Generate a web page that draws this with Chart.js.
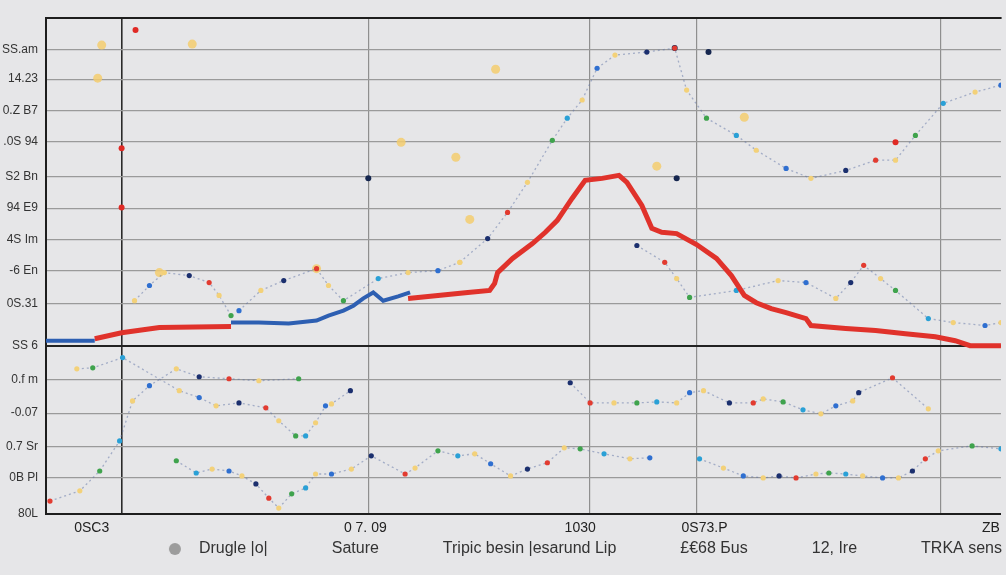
<!DOCTYPE html>
<html lang="en">
<head>
<meta charset="UTF-8">
<title>Chart</title>
<script src="https://cdn.jsdelivr.net/npm/chart.js"></script>
<style>
  body { margin: 0; background: #e6e6e8; }
  #wrap { width: 1006px; height: 575px; position: relative; }
</style>
</head>
<body>
<div id="wrap"><canvas id="myChart"></canvas></div>
<script>
// axis ticks
const xTickPos = [4.6, 32.1, 53.7, 66.2, 95.0];
const xTickLabels = ['0SC3', '0 7. 09', '1030', '0S73.P', 'ZB'];
const xGridPos = [7.6, 32.4, 54.6, 65.4, 89.9];
const yTickPos = [0, 1.1, 2.05, 3.05, 4.05, 5.09, 6.35, 7.35, 8.3, 9.25, 10.2, 11.25, 12.2, 13.15, 14.05];
const yTickLabels = ['80L', '0B Pl', '0.7 Sr', '-0.07', '0.f m', 'SS 6', '0S.31', '-6 En', '4S Im', '94 E9', 'S2 Bn', '.0S 94', '0.Z B7', '14.23', 'SS.am'];

const legendNames = ['Drugle |o|', 'Sature', 'Tripic besin |esarund Lip', '£€68 Бus', '12, Ire', 'TRKA sens'];

// main lines
const redX = [4.9, 7.6, 11.4, 18.6, 27, 36.4, 38.4, 42.4, 44.6, 45.1, 45.4, 46.9, 48.9, 50.2, 51.4, 52.9, 54.2, 55.9, 57.6, 58.4, 59.9, 60.9, 61.9, 63.4, 65.4, 67.4, 68.9, 70.2, 71.4, 72.9, 74.4, 76.4, 76.9, 80.4, 83.4, 86.4, 89.4, 91.4, 92.9, 96];
const redY = [5.30, 5.48, 5.64, 5.67, null, 6.52, 6.58, 6.70, 6.76, 6.97, 7.30, 7.73, 8.18, 8.52, 8.88, 9.55, 10.09, 10.15, 10.24, 10.03, 9.33, 8.64, 8.52, 8.48, 8.15, 7.73, 7.21, 6.61, 6.39, 6.21, 6.09, 5.91, 5.70, 5.61, 5.55, 5.45, 5.36, 5.24, 5.09, 5.09];

const blueX = [0, 4.9, 10, 18.6, 21.4, 24.4, 27.2, 28.4, 29.9, 30.9, 31.9, 32.9, 33.9, 35.4, 36.6];
const blueY = [5.24, 5.24, null, 5.79, 5.79, 5.76, 5.85, 6.00, 6.15, 6.30, 6.52, 6.70, 6.45, 6.58, 6.70];

// dotted series
const s1X = [8.9, 10.4, 11.9, 14.4, 16.4, 17.4, 18.6];
const s1Y = [6.45, 6.91, 7.30, 7.21, 7.0, 6.61, 6.0];

const s2X = [19.4, 21.6, 23.9, 27.2, 28.4, 29.9, 33.4, 36.4, 39.4, 41.6];
const s2Y = [6.15, 6.76, 7.06, 7.42, 6.91, 6.45, 7.12, 7.30, 7.36, 7.61];

const s3X = [41.6, 44.4, 46.4, 48.4, 50.9, 52.4, 53.9, 55.4, 57.2, 60.4, 63.2, 64.4, 66.4, 69.4, 71.4, 74.4, 76.9, 80.4, 83.4, 85.4, 87.4, 90.2, 93.4, 96];
const s3Y = [7.61, 8.33, 9.12, 10.03, 11.3, 11.97, 12.52, 13.48, 13.88, 13.97, 14.09, 12.82, 11.97, 11.45, 11.0, 10.45, 10.15, 10.39, 10.7, 10.7, 11.45, 12.42, 12.76, 12.97];

const s4X = [59.4, 62.2, 63.4, 64.7, 69.4, 73.6, 76.4, 79.4, 80.9, 82.2, 83.9, 85.4, 88.7, 91.2, 94.4, 96];
const s4Y = [8.12, 7.61, 7.12, 6.55, 6.76, 7.06, 7.0, 6.52, 7.0, 7.52, 7.12, 6.76, 5.91, 5.79, 5.70, 5.79];

const s5X = [0.4, 3.4, 5.4, 7.4, 8.7, 10.4, 13.1, 15.4, 18.4, 21.4, 25.4];
const s5Y = [0.39, 0.7, 1.3, 2.21, 3.42, 3.88, 4.39, 4.15, 4.09, 4.03, 4.09];

const s6X = [3.1, 4.7, 7.7, 13.4, 15.4, 17.1, 19.4, 22.1, 23.4, 25.1, 26.1, 27.1, 28.1, 28.7, 30.6];
const s6Y = [4.39, 4.42, 4.73, 3.73, 3.52, 3.27, 3.36, 3.21, 2.82, 2.36, 2.36, 2.76, 3.27, 3.33, 3.73];

const s7X = [13.1, 15.1, 16.7, 18.4, 19.7, 21.1, 22.4, 23.4, 24.7, 26.1, 27.1, 28.7, 30.7, 32.7, 36.1, 37.1, 39.4, 41.4, 43.1, 44.7, 46.7, 48.4, 50.4, 52.1, 53.7, 56.1, 58.7, 60.7];
const s7Y = [1.61, 1.24, 1.36, 1.30, 1.15, 0.91, 0.48, 0.18, 0.61, 0.79, 1.21, 1.21, 1.36, 1.76, 1.21, 1.39, 1.91, 1.76, 1.82, 1.52, 1.15, 1.36, 1.55, 2.0, 1.97, 1.82, 1.67, 1.70];

const s8X = [65.7, 68.1, 70.1, 72.1, 73.7, 75.4, 77.4, 78.7, 80.4, 82.1, 84.1, 85.7, 87.1, 88.4, 89.7, 93.1, 96];
const s8Y = [1.67, 1.39, 1.15, 1.09, 1.15, 1.09, 1.21, 1.24, 1.21, 1.15, 1.09, 1.09, 1.30, 1.67, 1.91, 2.06, 1.97];

const s9X = [52.7, 54.7, 57.1, 59.4, 61.4, 63.4, 64.7, 66.1, 68.7, 71.1, 72.1, 74.1, 76.1, 77.9, 79.4, 81.1, 81.7, 85.1, 88.7];
const s9Y = [3.97, 3.36, 3.36, 3.36, 3.39, 3.36, 3.67, 3.73, 3.36, 3.36, 3.48, 3.39, 3.15, 3.03, 3.27, 3.42, 3.67, 4.12, 3.18];

// loose dots
const yellowX = [5.6, 14.7, 5.2, 35.7, 45.2, 41.2, 42.6, 61.4, 70.2, 27.2, 11.4];
const yellowY = [14.18, 14.21, 13.18, 11.24, 13.45, 10.79, 8.91, 10.52, 12.0, 7.42, 7.30];
const darkX = [9.0, 7.6, 7.6, 32.4, 63.2, 66.6, 63.4, 85.4];
const darkY = [14.64, 11.06, 9.27, 10.15, 14.09, 13.97, 10.15, 11.24];

function pts(xs, ys) {
    return xs.map((x, i) => ({ x: x, y: ys[i] }));
}

const palette = ['#f3d179', '#2f6fd0', '#f3d179', '#1b2f6e', '#e23b30', '#f3d179', '#3fa34d', '#2aa0d6'];

function dotted(label, xs, ys, shift) {
    return {
        label: label,
        data: pts(xs, ys),
        borderColor: 'rgba(95,115,165,0.5)',
        borderWidth: 1.3,
        borderDash: [2, 3],
        pointRadius: 2.6,
        pointBorderWidth: 0,
        pointBackgroundColor: ctx => palette[(ctx.dataIndex + shift) % palette.length],
        order: 5
    };
}

// grey dot for the first legend entry (sits near the right of its box)
const legendDot = document.createElement('canvas');
legendDot.width = 52;
legendDot.height = 14;
const g = legendDot.getContext('2d');
g.fillStyle = '#9c9c9c';
g.beginPath();
g.arc(36, 7, 6, 0, Math.PI * 2);
g.fill();

const ctx = document.getElementById('myChart');

new Chart(ctx, {
    type: 'line',
    data: {
        datasets: [
            { label: legendNames[2], data: pts(redX, redY), borderColor: '#e0322b', backgroundColor: '#e0322b', borderWidth: 5, pointRadius: 0, order: 1 },
            { label: legendNames[4], data: pts(blueX, blueY), borderColor: '#2d5fb2', backgroundColor: '#2d5fb2', borderWidth: 4, pointRadius: 0, order: 2 },
            dotted(legendNames[0], s1X, s1Y, 0),
            dotted(legendNames[1], s2X, s2Y, 1),
            dotted(legendNames[3], s3X, s3Y, 2),
            dotted(legendNames[5], s4X, s4Y, 3),
            dotted('', s5X, s5Y, 4),
            dotted('', s6X, s6Y, 5),
            dotted('', s7X, s7Y, 6),
            dotted('', s8X, s8Y, 7),
            dotted('', s9X, s9Y, 3),
            { label: '', data: pts(yellowX, yellowY), showLine: false, pointRadius: 4.5, pointBorderWidth: 0, pointBackgroundColor: 'rgba(243,205,110,0.85)', order: 6 },
            { label: '', data: pts(darkX, darkY), showLine: false, pointRadius: 3, pointBorderWidth: 0, pointBackgroundColor: ctx => ctx.dataIndex < 3 || ctx.dataIndex == 7 ? '#e02a25' : '#15264f', order: 6 }
        ]
    },
    options: {
        responsive: true,
        maintainAspectRatio: false,
        animation: false,
        layout: { padding: { top: 18, right: 0, bottom: 8, left: 0 } },
        plugins: {
            tooltip: { enabled: false },
            legend: {
                position: 'bottom',
                align: 'end',
                labels: {
                    color: '#333',
                    font: { family: 'Liberation Sans', size: 16 },
                    usePointStyle: true,
                    pointStyleWidth: 52,
                    padding: 4,
                    generateLabels(chart) {
                        const items = Chart.defaults.plugins.legend.labels.generateLabels(chart)
                            .filter(it => it.text);
                        items.sort((a, b) => legendNames.indexOf(a.text) - legendNames.indexOf(b.text));
                        items.forEach((it, i) => {
                            it.pointStyle = i === 0 ? legendDot : 'circle';
                            it.lineDash = [];
                            it.lineWidth = 0;
                            it.fillStyle = 'rgba(0,0,0,0)';
                            it.strokeStyle = 'rgba(0,0,0,0)';
                        });
                        return items;
                    }
                }
            }
        },
        scales: {
            x: {
                type: 'linear',
                min: 0,
                max: 96,
                afterBuildTicks: scale => { scale.ticks = xTickPos.map(v => ({ value: v })); },
                afterFit: scale => { scale.height = 23; },
                ticks: {
                    color: '#222',
                    font: { family: 'Liberation Sans', size: 14 },
                    padding: 6,
                    maxRotation: 0,
                    autoSkip: false,
                    callback: (v, i) => xTickLabels[i]
                },
                grid: { display: false, drawTicks: false },
                border: { color: '#1e1e1e', width: 2 }
            },
            x2: {
                type: 'linear',
                position: 'top',
                min: 0,
                max: 96,
                afterBuildTicks: scale => { scale.ticks = xGridPos.map(v => ({ value: v })); },
                ticks: { display: false },
                grid: {
                    drawTicks: false,
                    color: c => c.index === 0 ? '#2a2a2a' : '#8f8f8f',
                    lineWidth: c => c.index === 0 ? 1.6 : 1.2
                },
                border: { color: '#1e1e1e', width: 2 }
            },
            y: {
                min: 0,
                max: 15,
                afterBuildTicks: scale => { scale.ticks = yTickPos.map(v => ({ value: v })); },
                afterFit: scale => { scale.width = 46; },
                ticks: {
                    color: '#333',
                    font: { family: 'Liberation Sans', size: 12 },
                    padding: 8,
                    autoSkip: false,
                    callback: (v, i) => yTickLabels[i]
                },
                grid: {
                    drawTicks: false,
                    color: c => c.tick && c.tick.value === 5.09 ? '#222' : '#9a9a9a',
                    lineWidth: c => c.tick && c.tick.value === 5.09 ? 2 : 1.2
                },
                border: { color: '#1e1e1e', width: 2 }
            }
        }
    }
});
</script>
</body>
</html>
